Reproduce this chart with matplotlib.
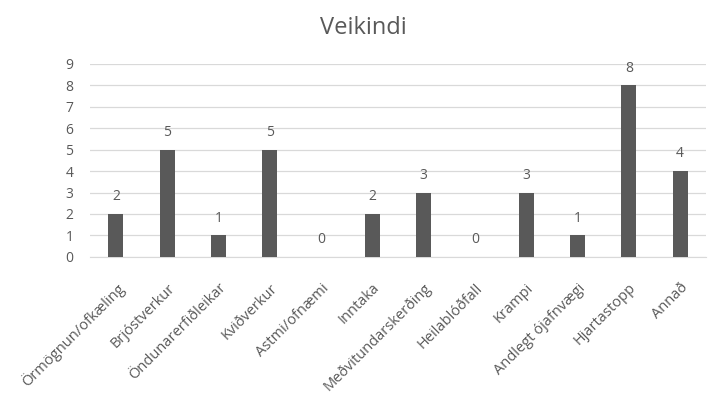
import matplotlib.pyplot as plt

categories = ['Örmögnun/ofkæling', 'Brjóstverkur', 'Öndunarerfiðleikar', 'Kviðverkur',
              'Astmi/ofnæmi', 'Inntaka', 'Meðvitundarskerðing', 'Heilablóðfall',
              'Krampi', 'Andlegt ójafnvægi', 'Hjartastopp', 'Annað']
values = [2, 5, 1, 5, 0, 2, 3, 0, 3, 1, 8, 4]

plt.rcParams['font.family'] = ['Open Sans', 'DejaVu Sans']
txt = '#595959'

fig = plt.figure(figsize=(7.1, 3.94), dpi=100)
ax = fig.add_axes([0.127, 0.348, 0.867, 0.49])

x = range(len(categories))
bars = ax.bar(x, values, width=0.29, color='#595959', zorder=3)
for xi, v in zip(x, values):
    ax.text(xi, v + 0.45, str(v), ha='center', va='bottom', fontsize=10, color=txt)

ax.set_xlim(-0.5, len(categories) - 0.5)
ax.set_ylim(0, 9)
ax.set_yticks(range(0, 10))
ax.grid(axis='y', color='#d9d9d9', linewidth=0.9, zorder=0)
ax.set_xticks(list(x))
ax.set_xticklabels(categories, rotation=45, ha='right', va='top', rotation_mode='anchor',
                   fontsize=10.5, color=txt)
ax.tick_params(axis='y', labelsize=10, labelcolor=txt, length=0, pad=12)
ax.tick_params(axis='x', length=0, pad=17)
for s in ['top', 'right', 'left']:
    ax.spines[s].set_visible(False)
ax.spines['bottom'].set_color('#d9d9d9')

fig.text(0.512, 0.93, 'Veikindi', ha='center', va='center', fontsize=17, color=txt)

fig.savefig('out.png', dpi=100)
